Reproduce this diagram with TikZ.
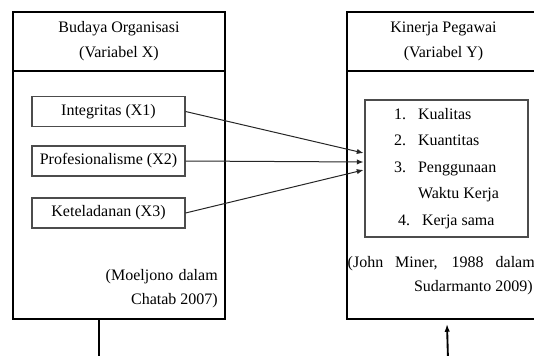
\documentclass[tikz,border=0pt]{standalone}
\usepackage{fontspec}
\setmainfont{Liberation Serif}
\usetikzlibrary{positioning}
\usetikzlibrary{arrows.meta}
\usetikzlibrary{calc}
\tikzstyle{headbox}=[rectangle,draw=black,line width=1.1pt,inner sep=0pt,align=center,minimum height=44.25pt]
\tikzstyle{bodybox}=[rectangle,draw=black,line width=1.1pt,inner sep=0pt,minimum height=186pt]
\tikzstyle{itembox}=[rectangle,draw=black!70,line width=0.8pt,minimum width=114.75pt,minimum height=22.5pt,inner sep=0pt]
\tikzstyle{listbox}=[rectangle,draw=black!70,line width=0.8pt,minimum width=122.25pt,minimum height=102.75pt,inner sep=0pt,align=left,font=\fontsize{12}{19.8}\selectfont]
\tikzstyle{cite}=[inner sep=0pt,anchor=base east]
\tikzstyle{arrowline} = [draw,black!85,line width=0.75pt,-{Latex[length=5pt,width=4pt]}]
\tikzstyle{stemline} = [draw,black,line width=1.4pt]

\begin{document}
\begin{tikzpicture}[x=0.75pt,y=-0.75pt,font=\fontsize{12}{18.75}\selectfont]

    \clip (0,0) rectangle (534,356);

    % The two variable boxes
    \node[headbox,minimum width=159pt] (budayaHead) at (119,41.5) {Budaya Organisasi\\(Variabel X)};
    \node[bodybox,minimum width=159pt] (budaya) at (119,195) {};
    \node[headbox,minimum width=144.75pt] (kinerjaHead) at (443.5,41.5) {Kinerja Pegawai\\(Variabel Y)};
    \node[bodybox,minimum width=144.75pt] (kinerja) at (443.5,195) {};

    % Dimensions of X
    \foreach \pos/\name/\label in {{(108.5,111.5)/x1/Integritas (X1)}, {(108.5,161)/x2/Profesionalisme (X2)}, {(108.5,213)/x3/Keteladanan (X3)}}
        \node[itembox] (\name) at \pos {\label};

    % Indicators of Y
    \node[listbox] (indikator) at (446.5,168.5)
        {\makebox[18pt][l]{1.}Kualitas\\
         \makebox[18pt][l]{2.}Kuantitas\\
         \makebox[18pt][l]{3.}Penggunaan\\
         \hspace*{18pt}Waktu Kerja\\
         \hspace*{3pt}\makebox[18pt][l]{4.}Kerja sama};

    % Sources
    \node[cite] (citeX1) at (218,280) {\makebox[84pt][s]{(Moeljono dalam}};
    \node[cite] (citeX2) at (218,304) {Chatab 2007)};
    \node[cite] (citeY1) at (535,267) {\makebox[140.25pt][s]{(John Miner, 1988 dalam}};
    \node[cite] (citeY2) at (533,291) {Sudarmanto 2009)};

    % Connect dimensions with the indicators
    \foreach \source/\dy in {x1/-15.5, x2/-6.5, x3/1.5}
        \path[arrowline] (\source.east) -- ($(indikator.west)+(-1,\dy)$);

    % Lines leaving the bottom
    \coordinate (budayaEnd) at (99,360);
    \coordinate (kinerjaStart) at (448,360);
    \path[stemline] ($(budaya.south)+(-20,0)$) -- (budayaEnd);
    \path[stemline,-{Latex[length=6pt,width=4pt]}] (kinerjaStart) -- ($(kinerja.south)+(3.5,4)$);

\end{tikzpicture}
\end{document}
